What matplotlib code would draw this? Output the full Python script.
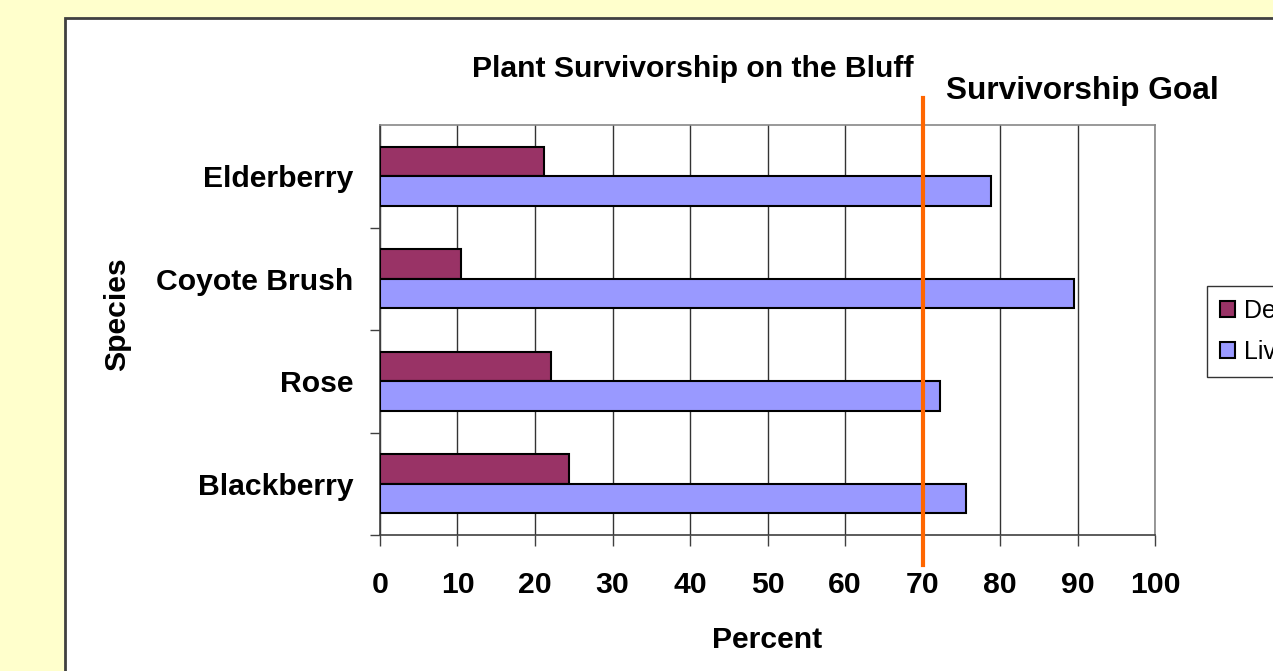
import numpy as np
import matplotlib
matplotlib.use('Agg')
import matplotlib.pyplot as plt
from matplotlib.patches import Rectangle

plt.rcParams['font.family'] = ['Liberation Sans', 'DejaVu Sans']

# Data, top to bottom
species = ['Elderberry', 'Coyote Brush', 'Rose', 'Blackberry']
dead = [21.2, 10.5, 22.0, 24.4]
living = [78.8, 89.5, 72.3, 75.6]
goal = 70
x_ticks = [0, 10, 20, 30, 40, 50, 60, 70, 80, 90, 100]

W, H = 1273, 671
fig = plt.figure(figsize=(W / 100, H / 100), dpi=100)
fig.patch.set_facecolor('#FFFFCC')

# white chart area with dark border (runs off the right/bottom edge)
fig.patches.append(Rectangle((65 / W, -0.1), 1.2, 1 - 18 / H + 0.1,
                             transform=fig.transFigure, facecolor='white',
                             edgecolor='#404040', linewidth=2, zorder=-10))

ax = fig.add_axes([380 / W, 1 - 535 / H, 775 / W, 410 / H])
ax.set_facecolor('white')

y = np.arange(len(species))[::-1]
bh = 0.29
ax.barh(y + bh / 2, dead, height=bh, color='#993366', edgecolor='black',
        linewidth=1.5, label='Dead', zorder=3)
ax.barh(y - bh / 2, living, height=bh, color='#9999FF', edgecolor='black',
        linewidth=1.5, label='Living', zorder=3)

ax.set_xlim(0, 100)
ax.set_ylim(-0.5, len(species) - 0.5)
ax.set_xticks(x_ticks)
ax.set_xticklabels([str(t) for t in x_ticks], fontsize=21.7, fontweight='bold')
ax.tick_params(axis='x', length=8, width=1, color='#404040', pad=18)

ax.set_yticks(y)
ax.set_yticklabels(species, fontsize=21.7, fontweight='bold')
ax.tick_params(axis='y', which='major', length=0, pad=19)
# separator ticks between categories (none at the very top)
ax.set_yticks(np.arange(len(species)) - 0.5, minor=True)
ax.tick_params(axis='y', which='minor', length=7, width=1, color='#404040')

ax.grid(axis='x', color='#333333', linewidth=1)
ax.set_axisbelow(True)
for s in ['top', 'right']:
    ax.spines[s].set_color('#888888')
for s in ['left', 'bottom']:
    ax.spines[s].set_color('#404040')
for s in ax.spines.values():
    s.set_linewidth(1.2)

# survivorship goal line
ax.axvline(goal, ymin=-0.073, ymax=1.066, color='#FF6600', linewidth=3,
           clip_on=False, zorder=5)

fig.text(692.5 / W, 1 - 77 / H, 'Plant Survivorship on the Bluff',
         fontsize=21.7, fontweight='bold', ha='center', va='baseline')
fig.text(946 / W, 1 - 99 / H, 'Survivorship Goal',
         fontsize=22.8, fontweight='bold', ha='left', va='baseline')
fig.text(767.5 / W, 1 - 648 / H, 'Percent',
         fontsize=21.7, fontweight='bold', ha='center', va='baseline')
fig.text(117 / W, 1 - 314 / H, 'Species', rotation=90,
         fontsize=21.7, fontweight='bold', ha='center', va='center')

leg = fig.legend(loc='upper left', bbox_to_anchor=(1207 / W, 1 - 286 / H),
                 fontsize=18, frameon=True, fancybox=False, shadow=False,
                 handlelength=0.6, handleheight=0.6, handletextpad=0.4,
                 labelspacing=0.7, borderpad=0.5, borderaxespad=0)
leg.get_frame().set_edgecolor('black')
leg.get_frame().set_linewidth(1)

fig.savefig('out.png', dpi=100, facecolor=fig.get_facecolor())
